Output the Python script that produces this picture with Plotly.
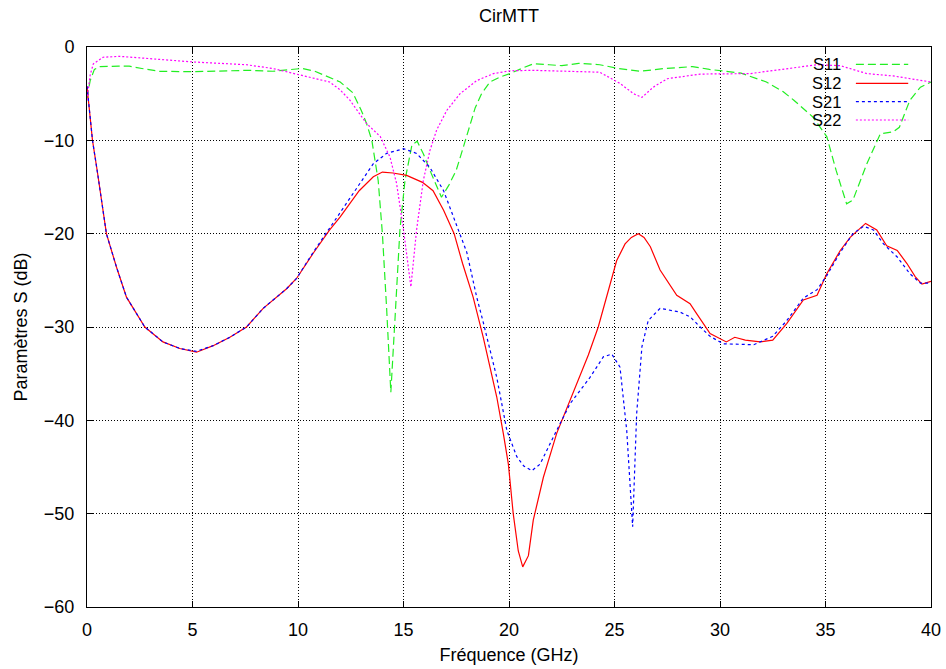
import plotly.graph_objects as go

# ---------------- data ----------------
f_s11 = [0.0, 0.15, 0.35, 0.6, 1.5, 2.0, 2.6, 3.4, 5.0, 6.5, 7.6, 8.8, 9.6, 10.2, 10.8, 11.5, 12.0,
         12.6, 13.0, 13.25, 13.5, 13.8, 14.0, 14.2, 14.4, 14.6, 14.83, 15.07, 15.4, 15.65, 15.95,
         16.25, 16.8, 17.15, 17.5, 17.8, 18.07, 18.4, 18.7, 19.1, 19.6, 20.05, 20.6, 21.15, 21.9,
         22.5, 23.3, 24.3, 25.2, 26.2, 27.4, 28.7, 29.5, 30.0, 31.0, 32.2, 33.0, 33.5, 34.4, 35.06,
         35.5, 36.0, 36.3, 36.96, 37.6, 38.2, 38.5, 39.0, 39.5, 40.0]
s11 = [-5.5, -3.6, -2.4, -2.1, -2.05, -2.05, -2.3, -2.6, -2.65, -2.55, -2.5, -2.6, -2.45, -2.3, -2.6,
       -3.3, -3.75, -4.9, -6.8, -8.2, -10.0, -14.3, -20.0, -28.0, -37.0, -29.0, -19.6, -14.3, -10.5,
       -10.1, -11.5, -13.2, -16.1, -14.8, -13.2, -11.0, -8.9, -6.5, -5.0, -3.75, -3.2, -2.85, -2.3,
       -1.8, -1.9, -2.0, -1.75, -1.9, -2.3, -2.6, -2.3, -2.1, -2.4, -2.55, -2.8, -3.75, -4.8, -5.7,
       -7.5, -9.6, -13.2, -16.8, -16.4, -12.5, -9.3, -9.1, -8.6, -5.7, -4.3, -3.75]

f_s22 = [0.0, 0.15, 0.3, 0.76, 1.55, 2.8, 5.0, 7.56, 8.8, 10.1, 11.5, 12.0, 12.46, 13.25, 13.9,
         14.36, 14.67, 15.0, 15.35, 15.62, 15.94, 16.25, 16.57, 17.05, 17.68, 18.47, 19.26, 20.05,
         21.15, 21.94, 23.0, 24.3, 25.26, 25.9, 26.3, 26.84, 27.5, 29.06, 31.43, 33.0, 34.6, 35.7,
         36.96, 38.2, 40.0]
s22 = [-5.7, -3.0, -1.8, -1.1, -1.0, -1.2, -1.6, -1.9, -2.3, -3.0, -3.75, -4.6, -5.7, -8.2, -9.6,
       -11.8, -14.6, -19.6, -25.7, -19.6, -14.3, -11.1, -8.9, -6.8, -5.0, -3.6, -2.85, -2.55, -2.5,
       -2.55, -2.6, -2.7, -3.9, -5.0, -5.4, -4.3, -3.4, -2.9, -2.85, -2.4, -1.9, -2.0, -2.85, -3.1,
       -3.75]

f_s12 = [0.0, 0.26, 0.5, 0.7, 0.92, 1.4, 1.87, 2.74, 3.6, 4.4, 5.19, 5.98, 6.77, 7.56, 8.35, 9.46,
         9.93, 10.72, 11.5, 12.0, 12.9, 13.57, 14.0, 14.5, 15.15, 15.9, 16.4, 16.9, 17.4, 17.8, 18.3,
         18.78, 19.42, 19.73, 19.97, 20.2, 20.44, 20.65, 20.92, 21.15, 21.63, 22.26, 22.9, 23.76,
         24.23, 24.63, 25.1, 25.5, 25.8, 26.13, 26.4, 26.7, 27.16, 27.95, 28.58, 28.9, 29.53, 30.3,
         30.7, 31.2, 31.9, 32.5, 33.17, 33.95, 34.6, 35.06, 35.7, 36.17, 36.9, 37.43, 37.9, 38.4,
         38.86, 39.25, 39.57, 40.0]
s12 = [-4.2, -10.0, -13.5, -16.4, -20.0, -23.6, -26.8, -30.0, -31.6, -32.3, -32.7, -32.0, -31.1,
       -30.0, -28.0, -25.9, -24.8, -22.1, -19.6, -18.2, -15.4, -13.9, -13.4, -13.5, -13.75, -14.5,
       -15.4, -17.5, -20.0, -23.2, -26.8, -31.1, -37.5, -41.4, -44.7, -50.0, -54.0, -55.7, -54.5,
       -50.7, -46.1, -41.4, -37.9, -33.0, -30.0, -26.8, -22.9, -21.1, -20.4, -20.0, -20.4, -21.4,
       -23.9, -26.6, -27.5, -28.6, -30.7, -31.6, -31.1, -31.4, -31.6, -31.4, -29.6, -27.1, -26.6,
       -24.3, -21.8, -20.4, -18.9, -19.6, -21.3, -21.8, -23.2, -24.6, -25.4, -25.1]

f_s21 = [0.0, 0.26, 0.5, 0.7, 0.92, 1.4, 1.87, 2.74, 3.6, 4.4, 5.19, 5.98, 6.77, 7.56, 8.35, 9.46,
         9.93, 10.72, 11.5, 12.0, 12.9, 13.57, 14.2, 15.0, 15.62, 16.25, 16.9, 17.5, 18.0, 18.47,
         18.78, 19.42, 19.9, 20.37, 20.7, 21.08, 21.47, 22.1, 22.9, 23.84, 24.47, 24.87, 25.26,
         25.58, 25.86, 26.05, 26.3, 26.6, 27.16, 28.1, 28.58, 29.06, 29.53, 30.15, 31.6, 32.5,
         33.17, 33.95, 34.6, 35.06, 35.7, 36.3, 36.8, 37.27, 37.75, 38.4, 39.0, 39.5, 40.0]
s21 = [-4.2, -10.0, -13.5, -16.4, -20.0, -23.6, -26.8, -30.0, -31.6, -32.3, -32.6, -32.0, -31.1,
       -30.0, -28.0, -25.9, -24.8, -22.0, -19.4, -17.7, -14.6, -12.5, -11.4, -10.9, -11.4, -12.9,
       -15.4, -18.9, -22.0, -26.8, -29.5, -35.4, -41.1, -43.9, -44.9, -45.4, -44.7, -41.8, -38.2,
       -35.4, -33.2, -32.9, -34.3, -41.1, -51.4, -39.3, -32.1, -29.3, -28.0, -28.4, -28.9, -30.0,
       -31.0, -31.8, -31.9, -31.0, -29.3, -26.9, -26.0, -24.5, -22.0, -20.0, -19.2, -19.6, -21.1,
       -22.5, -24.3, -25.3, -25.3]

series_names = ["S11", "S12", "S21", "S22"]
x_ticks = [0, 5, 10, 15, 20, 25, 30, 35, 40]
y_ticks = [-60, -50, -40, -30, -20, -10, 0]

# ---------------- styles ----------------
FONT = "Liberation Sans, Arial, Helvetica, sans-serif"
FS = 18
styles = {
    "S11": dict(color="#22ee22", dash="8px,4px"),
    "S12": dict(color="#ff0000", dash="solid"),
    "S21": dict(color="#0000ff", dash="3px,3px"),
    "S22": dict(color="#ff00ff", dash="2px,2px"),
}
data = {"S11": (f_s11, s11), "S12": (f_s12, s12), "S21": (f_s21, s21), "S22": (f_s22, s22)}

fig = go.Figure()
for name in series_names:
    fx, fy = data[name]
    st = styles[name]
    fig.add_trace(go.Scatter(x=fx, y=fy, mode="lines", name=name,
                             line=dict(color=st["color"], dash=st["dash"], width=1.2),
                             showlegend=False, hoverinfo="skip"))

# gnuplot-style legend: text on the left, line sample on the right
row_y = [0.9691, 0.9352, 0.9023, 0.8696]
for i, name in enumerate(series_names):
    st = styles[name]
    fig.add_annotation(xref="paper", yref="paper", x=0.8963, y=row_y[i], text=name,
                       showarrow=False, xanchor="right", yanchor="middle", height=18,
                       font=dict(family=FONT, size=16.5, color="black"))
    fig.add_shape(type="line", xref="paper", yref="paper", x0=0.911, x1=0.973,
                  y0=row_y[i], y1=row_y[i],
                  line=dict(color=st["color"], dash=st["dash"], width=1.2))

axis_common = dict(
    showline=True, linecolor="black", linewidth=1, mirror="ticks",
    ticks="inside", ticklen=6, tickcolor="black", tickwidth=1,
    showgrid=True, gridcolor="black", griddash="1px,2px", gridwidth=1,
    zeroline=False, automargin=False,
    tickfont=dict(family=FONT, size=FS, color="black"),
)

fig.update_layout(
    width=946, height=669,
    paper_bgcolor="white", plot_bgcolor="white",
    margin=dict(l=87, r=15, t=47, b=62, autoexpand=False),
    title=dict(text="CirMTT", x=0.5, xref="paper", xanchor="center",
               y=1 - 16 / 669, yref="container", yanchor="middle",
               font=dict(family=FONT, size=FS, color="black")),
    xaxis=dict(range=[0, 40], tickvals=x_ticks, ticklabelstandoff=6,
               title=dict(text="Fréquence (GHz)", standoff=9,
                          font=dict(family=FONT, size=FS, color="black")),
               **axis_common),
    yaxis=dict(range=[-60, 0], tickvals=y_ticks, ticklabelstandoff=8,
               title=dict(text="Paramètres S (dB)", standoff=11,
                          font=dict(family=FONT, size=FS, color="black")),
               **axis_common),
    showlegend=False,
)

fig.write_html(
    "out.html",
    config={"displayModeBar": False, "responsive": False},
    post_script="document.body.style.margin='0';document.body.style.overflow='hidden';",
)
